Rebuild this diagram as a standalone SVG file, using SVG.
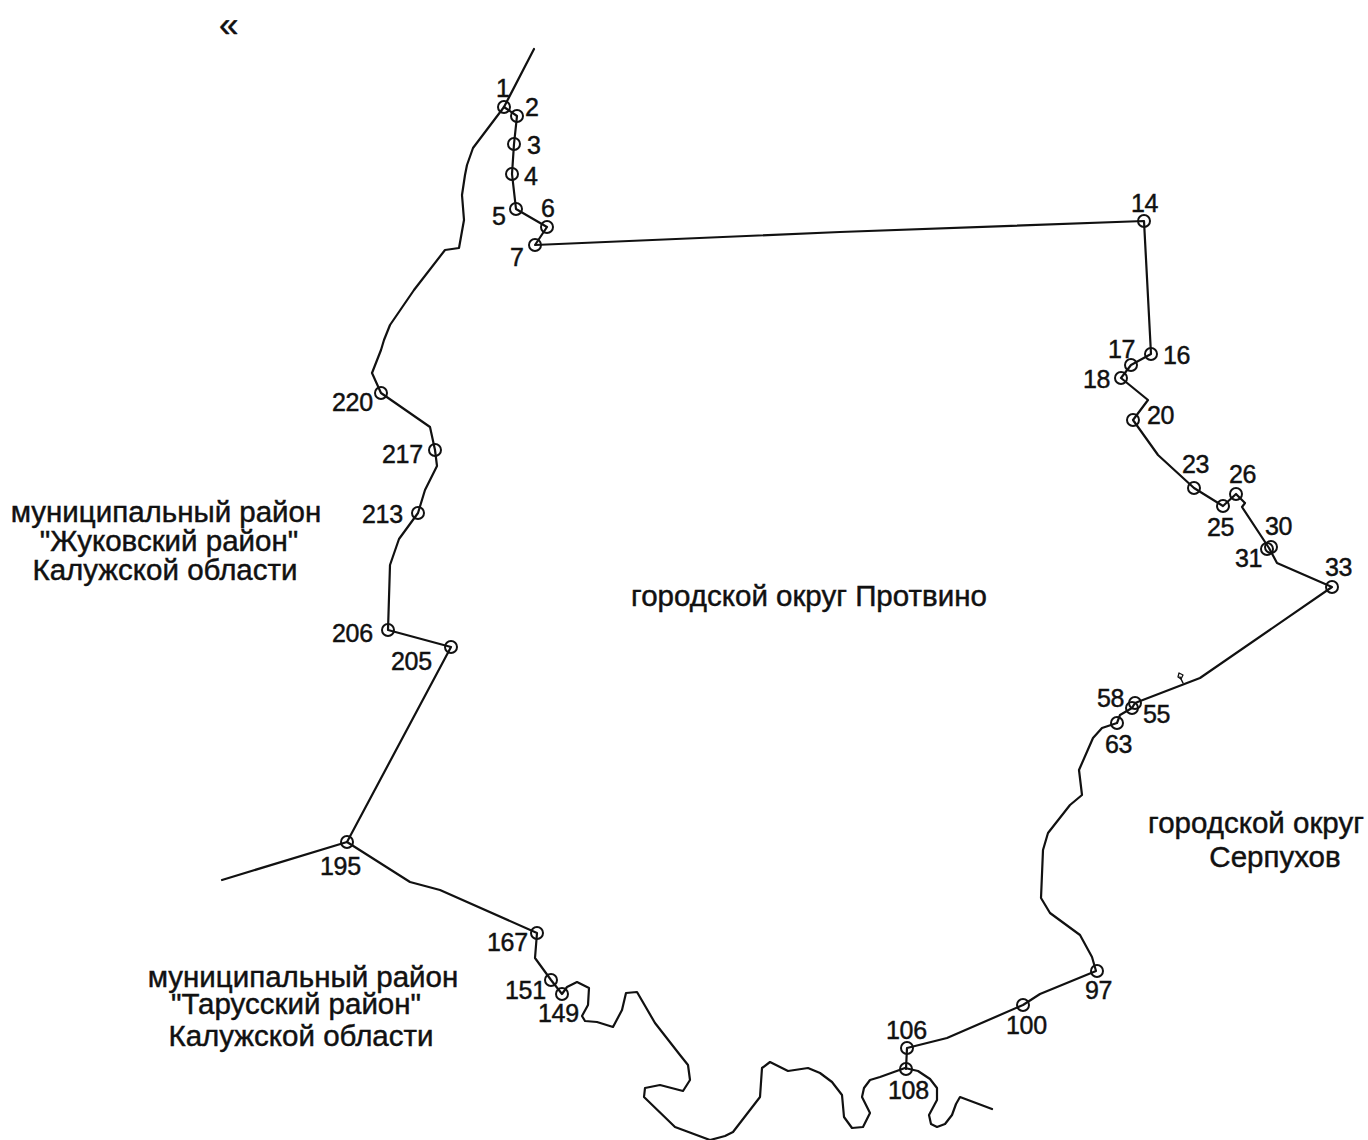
<svg xmlns="http://www.w3.org/2000/svg" width="1368" height="1140" viewBox="0 0 1368 1140">
<style>
text{font-family:"Liberation Sans",Arial,sans-serif;fill:#111;stroke:#111;stroke-width:.45}
.n{font-size:25px;letter-spacing:-.3px}
.a{font-size:29.5px}
.b{fill:none;stroke:#111;stroke-width:2.2;stroke-linejoin:round;stroke-linecap:round}
circle{fill:none;stroke:#111;stroke-width:2}
</style>
<rect width="1368" height="1140" fill="#fff"/>
<g id="connectors" class="b">
<path d="M534 49L504 107L473 148L467 165L465 175L462 195L464 220L459 248L445 250L414 290L390 325L384 340L381 350L372 373L381 393L430 427L435 450L437 466L425 490L418 513L399 539L390 565L388 630L451 647L347 842"/>
<path d="M222 880L347 842L410 882L440 890L537 933L535 958L551 980L562 994L567 987L577 982L589 988L588 1005L582 1016L585 1021L597 1022L613 1027L622 1010L626 993L637 992L655 1023L680 1055L688 1065L690 1080L683 1091L660 1085L645 1088L644 1097L675 1127L710 1140L725 1136L733 1132L760 1097L762 1068L770 1062L788 1071L808 1068L820 1073L832 1082L842 1095L844 1117L852 1128L863 1127L870 1113L862 1097L864 1088L870 1080L880 1077L905 1068L918 1071L930 1079L937 1088L937 1100L929 1115L931 1124L937 1127L945 1124L952 1115L956 1104L960 1097L992 1109"/>
<path d="M906 1069L907 1048L947 1038L1023 1005L1040 994L1096 971L1092 957L1080 935L1050 913L1041 898L1043 850L1048 833L1070 805L1082 795L1079 770L1093 738L1102 728L1117 723L1120 715L1132 708L1135 703L1200 678L1332 587L1277 563L1269 548L1242 507L1245 503L1236 494L1223 506L1194 488L1158 455L1133 420L1148 400L1121 378L1131 365L1151 354L1144 221L840 232L535 245L547 227L516 209L512 174L514 144L517 116L504 107"/>
<path d="M1183 683L1180 677" stroke-width="1.5"/>
<path d="M1179 673L1183 675L1181 679L1178 677Z" stroke-width="1.3"/>
</g>
<g id="title"><text x="219" y="36" style="font-size:35px">«</text></g>
<g id="regions">
<text class="a" x="166" y="522" text-anchor="middle">муниципальный район</text>
<text class="a" x="169" y="551" text-anchor="middle">"Жуковский район"</text>
<text class="a" x="165" y="580" text-anchor="middle">Калужской области</text>
<text class="a" x="809" y="606" text-anchor="middle">городской округ Протвино</text>
<text class="a" x="1256" y="833" text-anchor="middle">городской округ</text>
<text class="a" x="1275" y="867" text-anchor="middle">Серпухов</text>
<text class="a" x="303" y="987" text-anchor="middle">муниципальный район</text>
<text class="a" x="296" y="1014" text-anchor="middle">"Тарусский район"</text>
<text class="a" x="301" y="1046" text-anchor="middle">Калужской области</text>
</g>
<g id="p1"><circle cx="504" cy="107" r="6"/><text class="n" x="496" y="97">1</text></g>
<g id="p2"><circle cx="517" cy="116" r="6"/><text class="n" x="525" y="116">2</text></g>
<g id="p3"><circle cx="514" cy="144" r="6"/><text class="n" x="527" y="154">3</text></g>
<g id="p4"><circle cx="512" cy="174" r="6"/><text class="n" x="524" y="185">4</text></g>
<g id="p5"><circle cx="516" cy="209" r="6"/><text class="n" x="492" y="225">5</text></g>
<g id="p6"><circle cx="547" cy="227" r="6"/><text class="n" x="541" y="217">6</text></g>
<g id="p7"><circle cx="535" cy="245" r="6"/><text class="n" x="510" y="266">7</text></g>
<g id="p14"><circle cx="1144" cy="221" r="6"/><text class="n" x="1131" y="212">14</text></g>
<g id="p16"><circle cx="1151" cy="354" r="6"/><text class="n" x="1163" y="364">16</text></g>
<g id="p17"><circle cx="1131" cy="365" r="6"/><text class="n" x="1108" y="358">17</text></g>
<g id="p18"><circle cx="1121" cy="378" r="6"/><text class="n" x="1083" y="388">18</text></g>
<g id="p20"><circle cx="1133" cy="420" r="6"/><text class="n" x="1147" y="424">20</text></g>
<g id="p23"><circle cx="1194" cy="488" r="6"/><text class="n" x="1182" y="473">23</text></g>
<g id="p25"><circle cx="1223" cy="506" r="6"/><text class="n" x="1207" y="536">25</text></g>
<g id="p26"><circle cx="1236" cy="494" r="6"/><text class="n" x="1229" y="483">26</text></g>
<g id="p30"><circle cx="1271" cy="547" r="6"/><text class="n" x="1265" y="535">30</text></g>
<g id="p31"><circle cx="1267" cy="549" r="6"/><text class="n" x="1235" y="567">31</text></g>
<g id="p33"><circle cx="1332" cy="587" r="6"/><text class="n" x="1325" y="576">33</text></g>
<g id="p55"><circle cx="1132" cy="708" r="6"/><text class="n" x="1143" y="723">55</text></g>
<g id="p58"><circle cx="1135" cy="703" r="6"/><text class="n" x="1097" y="707">58</text></g>
<g id="p63"><circle cx="1117" cy="723" r="6"/><text class="n" x="1105" y="753">63</text></g>
<g id="p97"><circle cx="1097" cy="971" r="6"/><text class="n" x="1085" y="999">97</text></g>
<g id="p100"><circle cx="1023" cy="1005" r="6"/><text class="n" x="1006" y="1034">100</text></g>
<g id="p106"><circle cx="907" cy="1048" r="6"/><text class="n" x="886" y="1039">106</text></g>
<g id="p108"><circle cx="906" cy="1069" r="6"/><text class="n" x="888" y="1099">108</text></g>
<g id="p149"><circle cx="562" cy="994" r="6"/><text class="n" x="538" y="1022">149</text></g>
<g id="p151"><circle cx="551" cy="980" r="6"/><text class="n" x="505" y="999">151</text></g>
<g id="p167"><circle cx="537" cy="933" r="6"/><text class="n" x="487" y="951">167</text></g>
<g id="p195"><circle cx="347" cy="842" r="6"/><text class="n" x="320" y="875">195</text></g>
<g id="p205"><circle cx="451" cy="647" r="6"/><text class="n" x="391" y="670">205</text></g>
<g id="p206"><circle cx="388" cy="630" r="6"/><text class="n" x="332" y="642">206</text></g>
<g id="p213"><circle cx="418" cy="513" r="6"/><text class="n" x="362" y="523">213</text></g>
<g id="p217"><circle cx="435" cy="450" r="6"/><text class="n" x="382" y="463">217</text></g>
<g id="p220"><circle cx="381" cy="393" r="6"/><text class="n" x="332" y="411">220</text></g>
</svg>
